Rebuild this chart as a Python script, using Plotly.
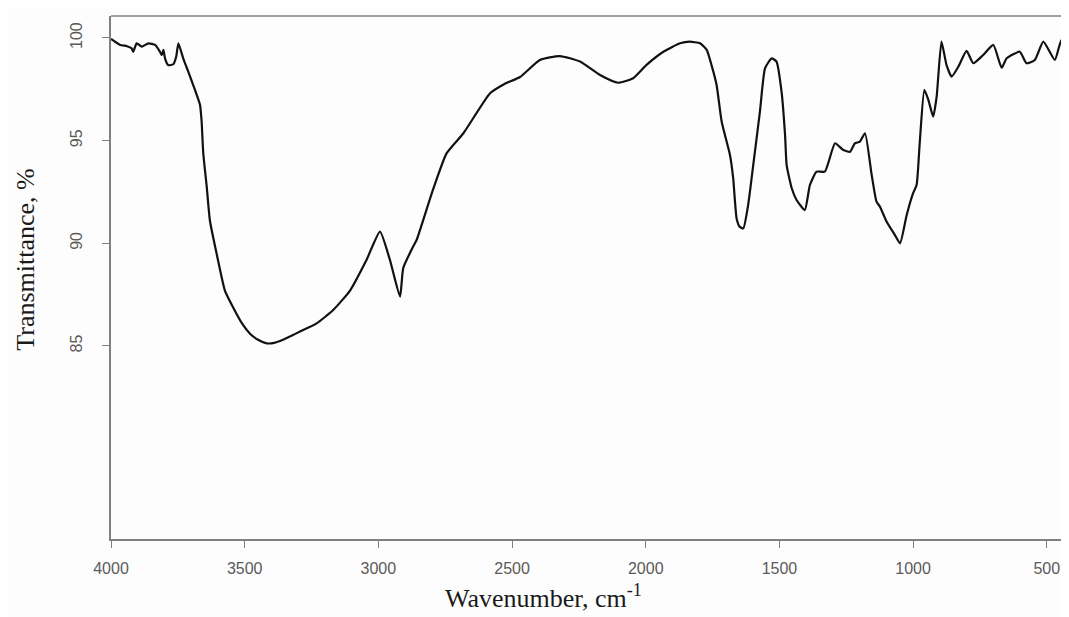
import plotly.graph_objects as go

wavenumber = [4000, 3966, 3940, 3923, 3917, 3904, 3885, 3860, 3835, 3817, 3810, 3804, 3798, 3786,
              3767, 3756, 3748, 3730, 3711, 3686, 3667, 3661, 3655, 3642, 3630, 3605, 3574, 3544,
              3510, 3480, 3450, 3418, 3390, 3357, 3325, 3293, 3231, 3169, 3106, 3044, 2994, 2957,
              2919, 2907, 2870, 2857, 2796, 2745, 2682, 2583, 2530, 2470, 2396, 2321, 2246, 2171,
              2103, 2047, 1997, 1934, 1872, 1835, 1797, 1772, 1754, 1735, 1716, 1685, 1673, 1660,
              1648, 1635, 1617, 1598, 1573, 1554, 1529, 1511, 1492, 1479, 1473, 1454, 1436, 1405,
              1386, 1361, 1330, 1292, 1261, 1236, 1218, 1199, 1180, 1155, 1137, 1124, 1099, 1068,
              1049, 1024, 1000, 987, 975, 958, 943, 925, 912, 894, 875, 856, 831, 800, 775, 738,
              700, 669, 650, 601, 576, 545, 513, 470, 445, 417]
transmittance = [99.95, 99.66, 99.6, 99.5, 99.33, 99.74, 99.58, 99.74, 99.66, 99.33, 99.17, 99.42,
                 99.01, 98.68, 98.72, 99.1, 99.74, 99.01, 98.36, 97.47, 96.74, 95.92, 94.4, 92.76,
                 91.1, 89.5, 87.7, 86.9, 86.1, 85.6, 85.3, 85.13, 85.15, 85.3, 85.5, 85.7, 86.1,
                 86.75, 87.7, 89.2, 90.57, 89.2, 87.4, 88.8, 89.84, 90.16, 92.6, 94.38, 95.36,
                 97.3, 97.75, 98.1, 98.93, 99.12, 98.85, 98.2, 97.82, 98.04, 98.69, 99.33, 99.74,
                 99.82, 99.74, 99.42, 98.68, 97.71, 95.92, 94.3, 93.17, 91.2, 90.8, 90.73, 91.87,
                 93.81, 96.41, 98.52, 99.01, 98.85, 97.38, 95.28, 93.81, 92.68, 92.11, 91.62,
                 92.84, 93.49, 93.49, 94.87, 94.54, 94.46, 94.87, 94.95, 95.36, 93.33, 92.03,
                 91.78, 91.05, 90.4, 90.0, 91.38, 92.44, 92.84, 94.95, 97.47, 96.98, 96.17, 97.14,
                 99.82, 98.68, 98.12, 98.6, 99.37, 98.77, 99.17, 99.66, 98.55, 99.01, 99.33, 98.77,
                 98.93, 99.82, 98.93, 99.9, 99.9]

x_ticks = [4000, 3500, 3000, 2500, 2000, 1500, 1000, 500]
y_ticks = [85, 90, 95, 100]
x_title = "Wavenumber, cm<sup>-1</sup>"
y_title = "Transmittance, %"

fig = go.Figure()
fig.add_trace(go.Scatter(x=wavenumber, y=transmittance, mode="lines",
                         line=dict(color="#111111", width=2.2, shape="spline", smoothing=0.5),
                         showlegend=False))

tick_font = dict(family="Liberation Sans, Arial", size=16, color="#5a5a5a")
title_font = dict(family="Liberation Serif, Times New Roman", size=26, color="#1a1a1a")

# the page body adds an 8px offset, so margins compensate for it
fig.update_layout(
    width=1069, height=617,
    margin=dict(l=103, r=8, t=8, b=86),
    paper_bgcolor="#fdfdfd", plot_bgcolor="#fdfdfd",
    xaxis=dict(range=[4000, 417], tickvals=x_ticks, ticks="outside", ticklen=7,
               tickcolor="#808080", showline=True, linecolor="#808080", linewidth=1.5,
               showgrid=False, zeroline=False, tickfont=tick_font,
               ticklabelstandoff=7),
    yaxis=dict(range=[75.6, 101.07], tickvals=y_ticks, ticks="outside", ticklen=7,
               tickcolor="#808080", showline=True, linecolor="#808080", linewidth=1.5,
               showgrid=False, zeroline=False, tickfont=tick_font, tickangle=-90,
               ticklabelstandoff=14),
    shapes=[dict(type="line", xref="paper", yref="paper", x0=0, x1=1, y0=1, y1=1,
                 line=dict(color="#808080", width=1.5))],
    annotations=[
        dict(text=x_title, xref="paper", yref="paper", x=0.451, y=-0.11,
             xanchor="center", yanchor="middle", showarrow=False, font=title_font),
        dict(text=y_title, xref="paper", yref="paper", x=-0.089, y=0.5335,
             xanchor="center", yanchor="middle", showarrow=False, font=title_font,
             textangle=-90),
    ],
)

fig.write_html("out.html")
